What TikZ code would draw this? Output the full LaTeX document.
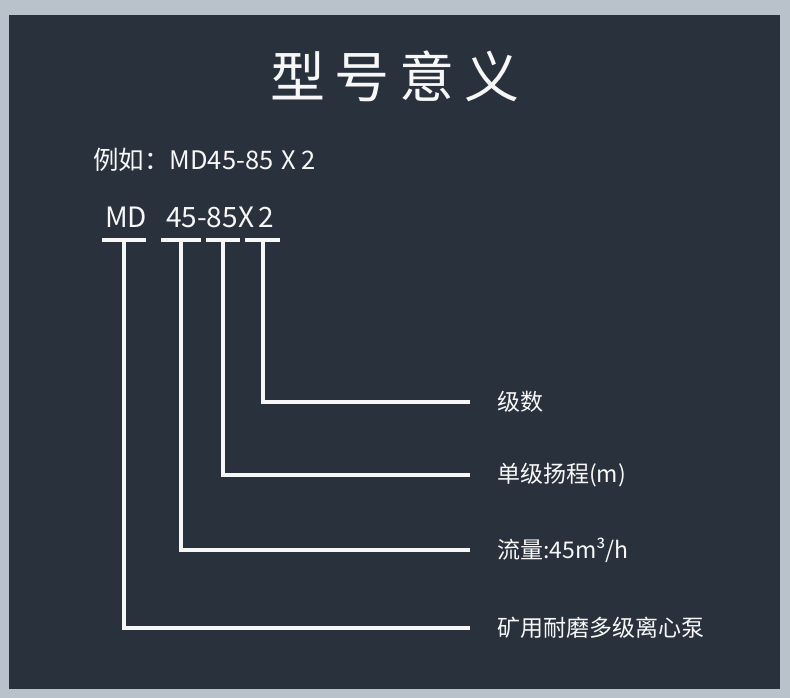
\documentclass[tikz,border=0pt]{standalone}
\usepackage{fontspec}
\setmainfont{Noto Sans CJK SC}
\usetikzlibrary{positioning}
\definecolor{MDFrame}{HTML}{B9C1CA}
\definecolor{MDPanel}{HTML}{29313C}
\definecolor{MDText}{HTML}{F7F7F7}
\tikzset{
mdtitle/.style={text=MDText, font=\fontsize{55}{60}\selectfont, inner sep=0pt},
mdexample/.style={text=MDText, font=\fontsize{25.5}{28}\selectfont, inner sep=0pt, anchor=base west},
mdcode/.style={text=MDText, font=\fontsize{28}{32}\selectfont, inner sep=0pt, anchor=base west},
mdlabel/.style={text=MDText, font=\fontsize{23}{26}\selectfont, inner sep=0pt, anchor=west},
mdbar/.style={fill=MDText, inner sep=0pt, minimum height=4pt},
mdlead/.style={draw=MDText, line width=4pt}
}
\begin{document}
\begin{tikzpicture}[x=1pt, y=-1pt]
\fill[MDFrame] (0,0) rectangle (790,698);
\fill[MDPanel] (9,15) rectangle (780,689);

\node[mdtitle] (title) at (395,76) {型\hspace{10pt}号\hspace{10pt}意\hspace{10pt}义};
\node[mdexample] (example) at (93,169) {例如：MD45-85\hspace{2pt} X 2};
\node[mdcode] (md) at (105,227) {MD};
\node[mdcode] (code) at (166,227) {45-85X\hspace{4pt}2};

% bars under the code
\node[mdbar, minimum width=44pt] (b1) at (124,240) {};
\node[mdbar, minimum width=40pt] (b2) at (181,240) {};
\node[mdbar, minimum width=34pt] (b3) at (223,240) {};
\node[mdbar, minimum width=35pt] (b4) at (262.5,240) {};

% meanings
\node[mdlabel] (stages) at (497,402) {级数};
\node[mdlabel] (head) at (497,475) {单级扬程(m)};
\node[mdlabel] (flow) at (497,550) {流量:45m³/h};
\node[mdlabel] (pump) at (497,628) {矿用耐磨多级离心泵};

\draw[mdlead] (b4.center) |- ([xshift=-27pt]stages.west);
\draw[mdlead] (b3.center) |- ([xshift=-27pt]head.west);
\draw[mdlead] (b2.center) |- ([xshift=-27pt]flow.west);
\draw[mdlead] (b1.center) |- ([xshift=-27pt]pump.west);
\end{tikzpicture}
\end{document}
